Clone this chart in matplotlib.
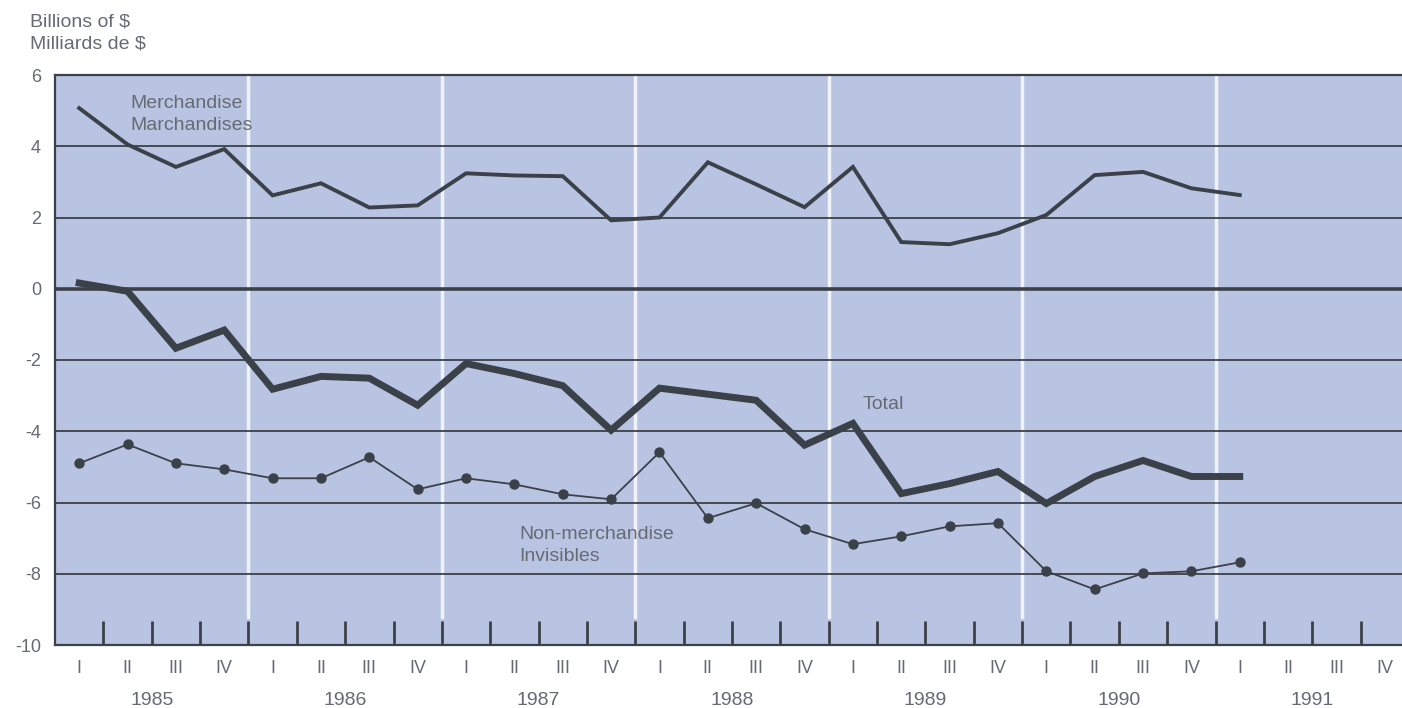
import numpy as np
import matplotlib.pyplot as plt

plt.rcParams['font.family'] = ['Liberation Sans', 'DejaVu Sans']

years = ['1985', '1986', '1987', '1988', '1989', '1990', '1991']
quarters = ['I', 'II', 'III', 'IV']

# 1985 Q1 .. 1991 Q1, billions of $
merchandise = [5.07, 4.05, 3.42, 3.92, 2.62, 2.96, 2.28, 2.34,
               3.24, 3.18, 3.16, 1.92, 2.00, 3.55, 2.93, 2.29,
               3.42, 1.31, 1.25, 1.56, 2.07, 3.19, 3.28, 2.82, 2.63]
total = [0.16, -0.07, -1.67, -1.16, -2.82, -2.46, -2.51, -3.27,
         -2.10, -2.38, -2.72, -3.97, -2.79, -2.96, -3.13, -4.39,
         -3.78, -5.75, -5.47, -5.13, -6.03, -5.27, -4.82, -5.27, -5.27]
non_merch = [-4.90, -4.37, -4.90, -5.07, -5.32, -5.32, -4.73, -5.63,
             -5.32, -5.49, -5.77, -5.91, -4.59, -6.44, -6.02, -6.75,
             -7.17, -6.95, -6.67, -6.58, -7.93, -8.44, -7.99, -7.93, -7.68]

bg = '#b9c4e3'
ink = '#3b4149'
txt = '#666a72'

fig = plt.figure(figsize=(14.02, 7.08), dpi=100)
ax = fig.add_axes([55/1402, 63/708, 1354/1402, 570/708])
ax.set_facecolor(bg)

nq = len(years) * 4
x = np.arange(len(total)) + 0.5

ax.set_xlim(0, nq)
ax.set_ylim(-10, 6)

# white year separators
for k in range(1, len(years)):
    ax.plot([4*k, 4*k], [-9.2, 6], color='white', lw=2.5, alpha=0.8, zorder=1)

# horizontal grid
for v in range(-8, 6, 2):
    ax.axhline(v, color=ink, lw=2.6 if v == 0 else 1.3, zorder=2)

ax.plot(x, merchandise, color=ink, lw=2.8, zorder=3, solid_joinstyle='miter')
ax.plot(x, total, color=ink, lw=5, zorder=3, solid_joinstyle='miter')
ax.plot(x, non_merch, color=ink, lw=1.3, marker='o', markersize=6.5, zorder=3)

for s in ['top', 'left', 'bottom']:
    ax.spines[s].set_color(ink)
    ax.spines[s].set_linewidth(1.6)
ax.spines['right'].set_visible(False)

ax.set_yticks(range(-10, 7, 2))
ax.set_yticklabels([str(v) for v in range(-10, 7, 2)], color=txt, fontsize=13)
ax.tick_params(axis='y', length=0, pad=10)

ax.set_xticks(range(1, nq))
ax.set_xticklabels([])
ax.tick_params(axis='x', which='major', direction='in', length=17, width=2, color=ink)
ax.set_xticks(np.arange(nq) + 0.5, minor=True)
ax.set_xticklabels(quarters * len(years), minor=True, color=txt, fontsize=13)
ax.tick_params(axis='x', which='minor', length=0, pad=11)

for k, yr in enumerate(years):
    ax.text(4*k + 2, -11.55, yr, ha='center', va='center', color=txt, fontsize=14)

ax.text(1.55, 4.88, 'Merchandise\nMarchandises', color=txt, fontsize=14,
        va='center', ha='left', linespacing=1.4)
ax.text(16.7, -3.24, 'Total', color=txt, fontsize=14, va='center', ha='left')
ax.text(9.6, -7.2, 'Non-merchandise\nInvisibles', color=txt, fontsize=14,
        va='center', ha='left', linespacing=1.4)

fig.text(30/1402, 1 - 22/708, 'Billions of $', color=txt, fontsize=14, va='center')
fig.text(30/1402, 1 - 44/708, 'Milliards de $', color=txt, fontsize=14, va='center')

fig.savefig('out.png', dpi=100)
